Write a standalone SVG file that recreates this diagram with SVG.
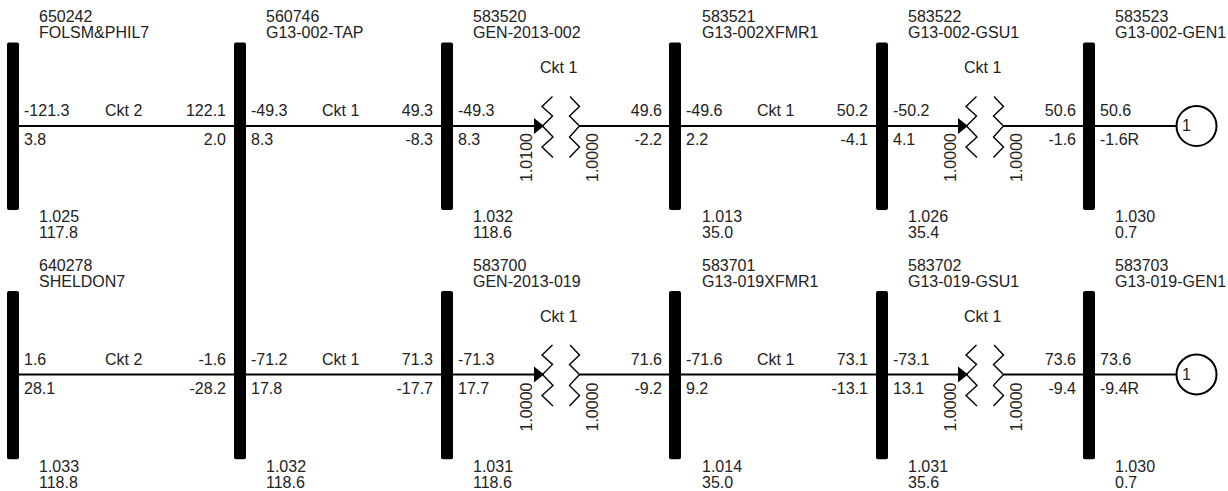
<svg xmlns="http://www.w3.org/2000/svg" width="1228" height="491" viewBox="0 0 1228 491">
<style>
text{font-family:"Liberation Sans",Arial,sans-serif;font-size:16px;fill:#222}
.e{text-anchor:end}
.bar{fill:#000}
.ln{stroke:#000;stroke-width:2;fill:none}
.coil{stroke:#000;stroke-width:1.4;fill:none}
.gen{stroke:#000;stroke-width:2;fill:#fff}
</style>
<defs>
<g id="xf">
<polyline class="coil" points="552.5,96.500 542,106.500 552.500,116 542.500,126 553,137 542,147 553,157.500"/>
<polyline class="coil" points="570,96.500 579.500,106.500 569.500,116 579.500,126 569.500,137 579.500,147 569.500,157.500"/>
<polygon points="534,118 534,134 544,126" fill="#000"/>
</g>
</defs>
<rect width="1228" height="491" fill="#fff"/>
<g id="connectors">
<path class="ln" d="M19 126H234M246 126H441M453 126H536M579.500 126H669M681 126H876M888 126H960M1003.500 126H1083M1095 126H1176"/>
<path class="ln" d="M19 374.400H234M246 374.400H441M453 374.400H536M579.500 374.400H669M681 374.400H876M888 374.400H960M1003.500 374.400H1083M1095 374.400H1176"/>
</g>
<g id="bus650242"><rect class="bar" x="7" y="42.500" width="12" height="167.500" rx="2"/>
<text x="39" y="22">650242</text><text x="39" y="38">FOLSM&amp;PHIL7</text><text x="39" y="222">1.025</text><text x="39" y="238">117.8</text>
<text x="24" y="116">-121.3</text><text x="24" y="145">3.8</text><text x="105" y="116">Ckt 2</text></g>
<g id="bus560746"><rect class="bar" x="234" y="42.500" width="12" height="416.800" rx="2"/>
<text x="266" y="22">560746</text><text x="266" y="38">G13-002-TAP</text><text x="266" y="472">1.032</text><text x="266" y="488">118.6</text>
<text class="e" x="226" y="116">122.1</text><text class="e" x="226" y="145">2.0</text><text x="251" y="116">-49.3</text><text x="251" y="145">8.3</text><text x="322" y="116">Ckt 1</text>
<text class="e" x="226" y="365">-1.6</text><text class="e" x="226" y="394">-28.2</text><text x="251" y="365">-71.2</text><text x="251" y="394">17.8</text><text x="322" y="365">Ckt 1</text></g>
<g id="bus583520"><rect class="bar" x="441" y="42.500" width="12" height="167.500" rx="2"/>
<text x="473" y="22">583520</text><text x="473" y="38">GEN-2013-002</text><text x="473" y="222">1.032</text><text x="473" y="238">118.6</text>
<text class="e" x="433" y="116">49.3</text><text class="e" x="433" y="145">-8.3</text><text x="458" y="116">-49.3</text><text x="458" y="145">8.3</text></g>
<g id="xf583520"><use href="#xf"/><text x="540" y="73">Ckt 1</text>
<text transform="translate(531.500 182) rotate(-90)">1.0100</text><text transform="translate(598 182) rotate(-90)">1.0000</text></g>
<g id="bus583521"><rect class="bar" x="669" y="42.500" width="12" height="167.500" rx="2"/>
<text x="702" y="22">583521</text><text x="702" y="38">G13-002XFMR1</text><text x="702" y="222">1.013</text><text x="702" y="238">35.0</text>
<text class="e" x="662" y="116">49.6</text><text class="e" x="662" y="145">-2.2</text><text x="686" y="116">-49.6</text><text x="686" y="145">2.2</text><text x="757" y="116">Ckt 1</text></g>
<g id="bus583522"><rect class="bar" x="876" y="42.500" width="12" height="167.500" rx="2"/>
<text x="908" y="22">583522</text><text x="908" y="38">G13-002-GSU1</text><text x="908" y="222">1.026</text><text x="908" y="238">35.4</text>
<text class="e" x="868" y="116">50.2</text><text class="e" x="868" y="145">-4.1</text><text x="893" y="116">-50.2</text><text x="893" y="145">4.1</text></g>
<g id="xf583522"><use href="#xf" x="424"/><text x="964" y="73">Ckt 1</text>
<text transform="translate(956 182) rotate(-90)">1.0000</text><text transform="translate(1022 182) rotate(-90)">1.0000</text></g>
<g id="bus583523"><rect class="bar" x="1083" y="42.500" width="12" height="167.500" rx="2"/>
<text x="1115" y="22">583523</text><text x="1115" y="38">G13-002-GEN1</text><text x="1115" y="222">1.030</text><text x="1115" y="238">0.7</text>
<text class="e" x="1076" y="116">50.6</text><text class="e" x="1076" y="145">-1.6</text><text x="1100" y="116">50.6</text><text x="1100" y="145">-1.6R</text></g>
<g id="gen583523"><circle class="gen" cx="1196.500" cy="126" r="20"/><text x="1182" y="131">1</text></g>

<g id="bus640278"><rect class="bar" x="7" y="291" width="12" height="168.300" rx="2"/>
<text x="39" y="271">640278</text><text x="39" y="287">SHELDON7</text><text x="39" y="472">1.033</text><text x="39" y="488">118.8</text>
<text x="24" y="365">1.6</text><text x="24" y="394">28.1</text><text x="105" y="365">Ckt 2</text></g>
<g id="bus583700"><rect class="bar" x="441" y="291" width="12" height="168.300" rx="2"/>
<text x="473" y="271">583700</text><text x="473" y="287">GEN-2013-019</text><text x="473" y="472">1.031</text><text x="473" y="488">118.6</text>
<text class="e" x="433" y="365">71.3</text><text class="e" x="433" y="394">-17.7</text><text x="458" y="365">-71.3</text><text x="458" y="394">17.7</text></g>
<g id="xf583700"><use href="#xf" y="248.400"/><text x="540" y="322">Ckt 1</text>
<text transform="translate(531.500 431.500) rotate(-90)">1.0000</text><text transform="translate(598 431.500) rotate(-90)">1.0000</text></g>
<g id="bus583701"><rect class="bar" x="669" y="291" width="12" height="168.300" rx="2"/>
<text x="702" y="271">583701</text><text x="702" y="287">G13-019XFMR1</text><text x="702" y="472">1.014</text><text x="702" y="488">35.0</text>
<text class="e" x="662" y="365">71.6</text><text class="e" x="662" y="394">-9.2</text><text x="686" y="365">-71.6</text><text x="686" y="394">9.2</text><text x="757" y="365">Ckt 1</text></g>
<g id="bus583702"><rect class="bar" x="876" y="291" width="12" height="168.300" rx="2"/>
<text x="908" y="271">583702</text><text x="908" y="287">G13-019-GSU1</text><text x="908" y="472">1.031</text><text x="908" y="488">35.6</text>
<text class="e" x="868" y="365">73.1</text><text class="e" x="868" y="394">-13.1</text><text x="893" y="365">-73.1</text><text x="893" y="394">13.1</text></g>
<g id="xf583702"><use href="#xf" x="424" y="248.400"/><text x="964" y="322">Ckt 1</text>
<text transform="translate(956 431.500) rotate(-90)">1.0000</text><text transform="translate(1022 431.500) rotate(-90)">1.0000</text></g>
<g id="bus583703"><rect class="bar" x="1083" y="291" width="12" height="168.300" rx="2"/>
<text x="1115" y="271">583703</text><text x="1115" y="287">G13-019-GEN1</text><text x="1115" y="472">1.030</text><text x="1115" y="488">0.7</text>
<text class="e" x="1076" y="365">73.6</text><text class="e" x="1076" y="394">-9.4</text><text x="1100" y="365">73.6</text><text x="1100" y="394">-9.4R</text></g>
<g id="gen583703"><circle class="gen" cx="1196.500" cy="374.400" r="20"/><text x="1182" y="379.500">1</text></g>
</svg>
